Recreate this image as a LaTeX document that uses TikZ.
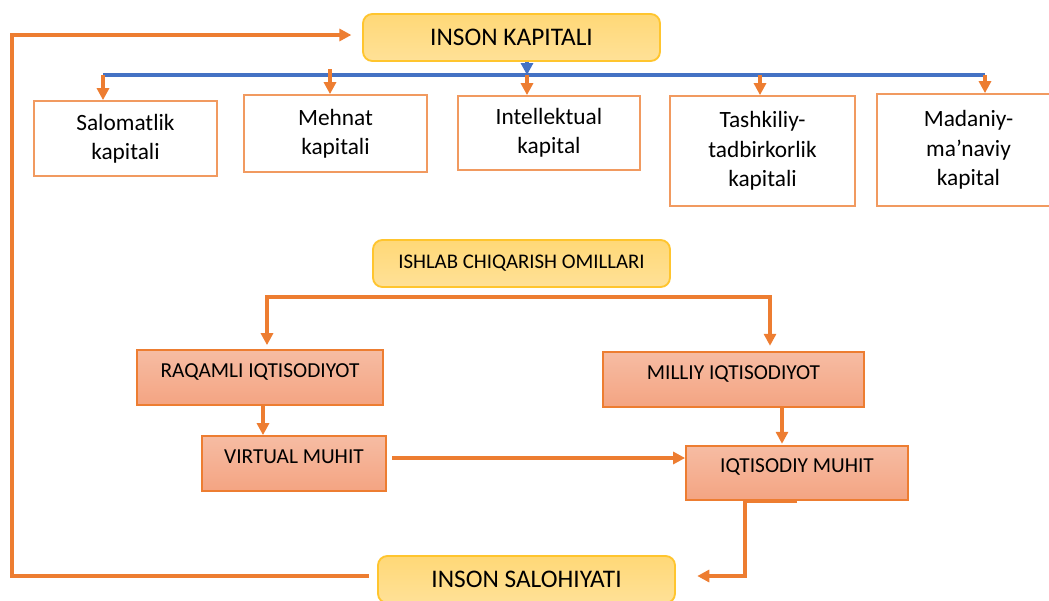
\documentclass[tikz,border=0pt]{standalone}
\usepackage{fontspec}
\setmainfont{Carlito}
\usetikzlibrary{arrows.meta,calc}
\definecolor{orng}{HTML}{ED7D31}
\definecolor{lorng}{HTML}{F19A60}
\definecolor{blu}{HTML}{4472C4}
\definecolor{gold}{HTML}{FFC52E}
\definecolor{ytop}{HTML}{FFD877}
\definecolor{ybot}{HTML}{FFE197}
\definecolor{stop}{HTML}{F6BCA3}
\definecolor{sbot}{HTML}{F4A482}
\tikzset{
  tip/.tip={Triangle[length=9pt,width=9pt]},
  conn/.style={draw=orng, line width=2.6pt, -tip},
  bconn/.style={draw=blu, line width=2.6pt},
  ybox/.style={draw=gold, line width=1.4pt, rounded corners=7pt, top color=ytop, bottom color=ybot, minimum width=222.75pt, minimum height=35.25pt, inner sep=0pt},
  wbox/.style={draw=lorng, line width=1.3pt, fill=white, align=center, font=\fontsize{17.5}{22}\selectfont, inner sep=0pt},
  sbox/.style={draw=orng, line width=1.3pt, top color=stop, bottom color=sbot, font=\fontsize{16}{18}\selectfont, text height=8.8pt, text depth=9.5pt, inner sep=0pt, minimum height=41.25pt}
}
\begin{document}
\begin{tikzpicture}[x=0.75pt,y=-0.75pt]
\useasboundingbox (0,0) rectangle (1049,600);
% top
\node[ybox, font=\fontsize{19}{21}\selectfont] (ik) at (511.5,37.5) {INSON KAPITALI};
\node[wbox, minimum width=137.25pt, minimum height=56.25pt] (sal) at (125.5,138.5) {Salomatlik\\kapitali};
\node[wbox, minimum width=137.25pt, minimum height=57.75pt] (meh) at (335.5,133.5) {Mehnat\\kapitali};
\node[wbox, minimum width=136.5pt, minimum height=55.5pt] (int) at (549,133) {Intellektual\\kapital};
\node[wbox, minimum width=138.75pt, minimum height=82.5pt] (tash) at (762.5,151) {Tashkiliy-\\tadbirkorlik\\kapitali};
\node[wbox, minimum width=137.25pt, minimum height=84pt] (mad) at (968.5,150) {Madaniy-\\ma’naviy\\kapital};
% blue bus
\coordinate (bl) at (103,75);
\coordinate (br) at (985,75);
\coordinate (bj) at (527,75);
\draw[bconn] (bl) -- (br);
\draw[bconn, -tip] (ik.south -| bj) -- (bj);
\draw[conn] (bl) -- (bl |- sal.north);
\coordinate (mt) at (330,69);
\draw[conn] (mt) -- (mt |- meh.north);
\draw[conn] (bj) -- (bj |- int.north);
\coordinate (tt) at (760,75);
\draw[conn] (tt) -- (tt |- tash.north);
\draw[conn] (br) -- (br |- mad.north);
% middle
\node[ybox, font=\fontsize{15.6}{18}\selectfont] (ish) at (521.5,263.5) {ISHLAB CHIQARISH OMILLARI};
\node[sbox, minimum width=184.5pt] (raq) at (260,377.5) {RAQAMLI IQTISODIYOT};
\node[sbox, minimum width=195.75pt] (mil) at (733.5,379.5) {MILLIY IQTISODIYOT};
\node[sbox, minimum width=138pt] (vir) at (294,463.5) {VIRTUAL MUHIT};
\node[sbox, minimum width=166.5pt, minimum height=40.5pt] (iqt) at (797,473) {IQTISODIY MUHIT};
\node[ybox, font=\fontsize{19}{21}\selectfont] (sal2) at (526.5,579.5) {INSON SALOHIYATI};
\coordinate (sl) at (267,297);
\coordinate (sr) at (770,297);
\draw[conn, tip-tip, shorten >=4pt, shorten <=3pt] (raq.north -| sl) -- (sl) -- (sr) -- (mil.north -| sr);
\coordinate (rv) at (263,420);
\draw[conn] (raq.south -| rv) -- (vir.north -| rv);
\coordinate (mi) at (782,420);
\draw[conn, shorten >=1pt] (mil.south -| mi) -- (iqt.north -| mi);
\coordinate (vi) at (392,458);
\draw[conn] (vi) -- (iqt.west |- vi);
\coordinate (dn) at (745,576);
\draw[conn, shorten >=16pt] (iqt.south) -- (iqt.south -| dn) -- (dn) -- (sal2.east |- dn);
\coordinate (fl) at (12,576);
\coordinate (ft) at (12,35);
\draw[conn, shorten >=8pt] ($(sal2.west |- fl)+(-8,0)$) -- (fl) -- (ft) -- (ik.west |- ft);
\end{tikzpicture}
\end{document}
